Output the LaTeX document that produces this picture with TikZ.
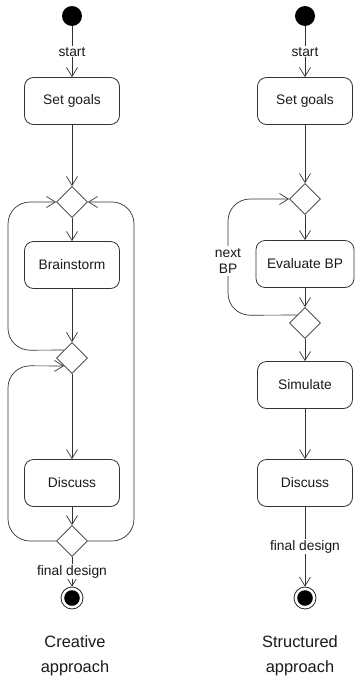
\documentclass[tikz,border=0pt]{standalone}
\usepackage{fontspec}
\setmainfont{Liberation Sans}
\usetikzlibrary{arrows.meta,shapes.geometric,calc}
\begin{document}
\begin{tikzpicture}[x=1pt,y=-1pt,
  every node/.style={font=\fontsize{13.8}{16}\selectfont, text=black!90},
  act/.style={draw=black!80, line width=0.8pt, rounded corners=9pt, minimum width=95pt, minimum height=47pt, inner xsep=11pt, inner ysep=3pt},
  dec/.style={draw=black!80, line width=0.8pt, diamond, aspect=1, minimum width=31pt, minimum height=31pt, inner sep=0pt},
  flow/.style={draw=black!80, line width=0.7pt, -{Straight Barb[length=9pt,width=11pt]}},
  loopf/.style={flow, rounded corners=22pt},
  lbl/.style={fill=white, inner sep=1pt},
  initst/.style={circle, fill=black, minimum size=20pt, inner sep=0pt},
  finst/.style={circle, draw=black!85, line width=0.8pt, minimum size=22pt, inner sep=0pt},
  caption/.style={font=\fontsize{16.4}{25}\selectfont, align=center},
]
\useasboundingbox (0,0) rectangle (354,680);

% ---------- Creative approach ----------
\node[initst] (s1) at (72,16) {};
\node[act] (sg1) at (72,101) {Set goals};
\node[dec] (d1) at (72,202) {};
\node[act] (bs) at (72,265) {Brainstorm};
\node[dec] (d2) at (72,358) {};
\node[act] (disc1) at (72,483) {Discuss};
\node[dec] (d3) at (72,541) {};
\node[finst] (f1) at (72,598) {};
\fill[black] (f1.center) circle (7.8pt);

\coordinate (d2ul) at ($(d2.west)!0.5!(d2.north)$);
\coordinate (d2ll) at ($(d2.west)!0.5!(d2.south)$);

\draw[flow] (s1) -- node[lbl]{start} (sg1);
\draw[flow] (sg1) -- (d1);
\draw[flow] (d1) -- (bs);
\draw[flow] (bs) -- (d2);
\draw[flow] (d2) -- (disc1);
\draw[flow] (disc1) -- (d3);
\draw[flow] (d3) -- node[lbl]{final design} (f1);
\draw[loopf] (d2ul) -- (8,350.25) -- (8,202) -- (d1.west);
\draw[loopf] (d3.west) -- (8,541) -- (8,365.75) -- (d2ll);
\draw[loopf] (d3.east) -- (134,541) -- (134,202) -- (d1.east);

\node[caption] (c1) at (75,656) {Creative\\approach};

% ---------- Structured approach ----------
\node[initst] (s2) at (305,16) {};
\node[act] (sg2) at (305,101) {Set goals};
\node[dec] (e1) at (305,199) {};
\node[act] (ev) at (305,264) {Evaluate BP};
\node[dec] (e2) at (305,323) {};
\node[act] (sim) at (305,385) {Simulate};
\node[act] (disc2) at (305,483) {Discuss};
\node[finst] (f2) at (305,598) {};
\fill[black] (f2.center) circle (7.8pt);

\coordinate (e2ul) at ($(e2.west)!0.5!(e2.north)$);

\draw[flow] (s2) -- node[lbl]{start} (sg2);
\draw[flow] (sg2) -- (e1);
\draw[flow] (e1) -- (ev);
\draw[flow] (ev) -- (e2);
\draw[flow] (e2) -- (sim);
\draw[flow] (sim) -- (disc2);
\draw[flow] (disc2) -- node[lbl]{final design} (f2);
\draw[loopf] (e2ul) -- (228,315.25) -- (228,199) -- (e1.west);
\node[lbl, align=center, inner ysep=3pt] (nbp) at (228,261) {next\\BP};

\node[caption] (c2) at (300,656) {Structured\\approach};
\end{tikzpicture}
\end{document}
